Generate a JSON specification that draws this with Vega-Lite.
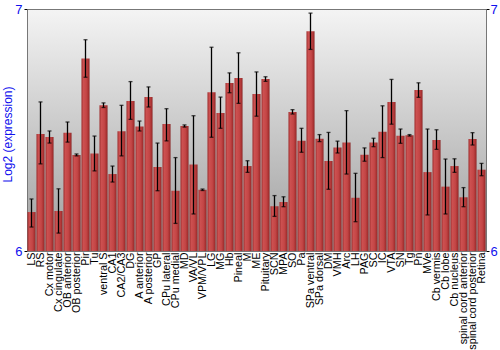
{
  "$schema": "https://vega.github.io/schema/vega-lite/v6.json",
  "width": 459,
  "height": 242,
  "autosize": {"type": "none"},
  "padding": {"left": 27, "top": 9, "right": 14, "bottom": 99},
  "background": "white",
  "config": {
    "font": "Liberation Sans",
    "view": {
      "stroke": "#777777",
      "strokeWidth": 1,
      "fill": {"gradient": "linear", "x1": 0, "y1": 0, "x2": 0, "y2": 1, "stops": [{"offset": 0, "color": "#f4f4f4"}, {"offset": 1, "color": "#9e9e9e"}]}
    }
  },
  "data": {
    "values": [
      {"region": "LS", "value": 6.161, "lo": 6.099, "hi": 6.215},
      {"region": "RS", "value": 6.483, "lo": 6.360, "hi": 6.616},
      {"region": "Cx motor", "value": 6.471, "lo": 6.446, "hi": 6.496},
      {"region": "Cx cingulate", "value": 6.165, "lo": 6.074, "hi": 6.257},
      {"region": "OB anterior", "value": 6.489, "lo": 6.450, "hi": 6.533},
      {"region": "OB posterior", "value": 6.397, "lo": 6.393, "hi": 6.401},
      {"region": "Pir", "value": 6.795, "lo": 6.718, "hi": 6.873},
      {"region": "Tu", "value": 6.403, "lo": 6.331, "hi": 6.475},
      {"region": "ventral S", "value": 6.602, "lo": 6.593, "hi": 6.612},
      {"region": "CA1", "value": 6.318, "lo": 6.285, "hi": 6.351},
      {"region": "CA2/CA3", "value": 6.495, "lo": 6.393, "hi": 6.602},
      {"region": "DG", "value": 6.620, "lo": 6.544, "hi": 6.700},
      {"region": "A anterior", "value": 6.514, "lo": 6.496, "hi": 6.537},
      {"region": "A posterior", "value": 6.636, "lo": 6.595, "hi": 6.678},
      {"region": "GP", "value": 6.347, "lo": 6.249, "hi": 6.446},
      {"region": "CPu lateral", "value": 6.525, "lo": 6.455, "hi": 6.588},
      {"region": "CPu medial", "value": 6.249, "lo": 6.114, "hi": 6.386},
      {"region": "MD", "value": 6.517, "lo": 6.512, "hi": 6.521},
      {"region": "VA/VL", "value": 6.357, "lo": 6.153, "hi": 6.559},
      {"region": "VPM/VPL", "value": 6.253, "lo": 6.250, "hi": 6.256},
      {"region": "LG", "value": 6.656, "lo": 6.470, "hi": 6.842},
      {"region": "MG", "value": 6.570, "lo": 6.507, "hi": 6.636},
      {"region": "Hb", "value": 6.694, "lo": 6.654, "hi": 6.736},
      {"region": "Pineal", "value": 6.715, "lo": 6.610, "hi": 6.819},
      {"region": "M", "value": 6.351, "lo": 6.325, "hi": 6.373},
      {"region": "ME", "value": 6.649, "lo": 6.557, "hi": 6.740},
      {"region": "Pituitary", "value": 6.711, "lo": 6.701, "hi": 6.720},
      {"region": "SCN", "value": 6.185, "lo": 6.143, "hi": 6.229},
      {"region": "MPA", "value": 6.202, "lo": 6.183, "hi": 6.224},
      {"region": "SO", "value": 6.574, "lo": 6.566, "hi": 6.584},
      {"region": "Pa", "value": 6.456, "lo": 6.408, "hi": 6.507},
      {"region": "SPa ventral", "value": 6.908, "lo": 6.833, "hi": 6.983},
      {"region": "SPa dorsal", "value": 6.464, "lo": 6.452, "hi": 6.481},
      {"region": "DM", "value": 6.372, "lo": 6.255, "hi": 6.490},
      {"region": "VMH", "value": 6.428, "lo": 6.405, "hi": 6.454},
      {"region": "Arc", "value": 6.448, "lo": 6.318, "hi": 6.580},
      {"region": "LH", "value": 6.220, "lo": 6.121, "hi": 6.321},
      {"region": "PAG", "value": 6.398, "lo": 6.371, "hi": 6.426},
      {"region": "SC", "value": 6.448, "lo": 6.431, "hi": 6.466},
      {"region": "IC", "value": 6.493, "lo": 6.386, "hi": 6.600},
      {"region": "VTA", "value": 6.616, "lo": 6.524, "hi": 6.709},
      {"region": "SN", "value": 6.476, "lo": 6.445, "hi": 6.504},
      {"region": "Tg", "value": 6.478, "lo": 6.475, "hi": 6.481},
      {"region": "Pn", "value": 6.665, "lo": 6.635, "hi": 6.695},
      {"region": "MVe", "value": 6.326, "lo": 6.149, "hi": 6.504},
      {"region": "Cb vermis", "value": 6.459, "lo": 6.420, "hi": 6.501},
      {"region": "Cb lobe", "value": 6.266, "lo": 6.153, "hi": 6.380},
      {"region": "Cb nucleus", "value": 6.351, "lo": 6.325, "hi": 6.381},
      {"region": "spinal cord anterior", "value": 6.222, "lo": 6.183, "hi": 6.262},
      {"region": "spinal cord posterior", "value": 6.463, "lo": 6.438, "hi": 6.489},
      {"region": "Retina", "value": 6.336, "lo": 6.311, "hi": 6.362}
    ]
  },
  "encoding": {
    "x": {
      "field": "region",
      "type": "nominal",
      "sort": null,
      "scale": {"paddingInner": 0.1, "paddingOuter": 0.05},
      "axis": {
        "title": null,
        "labelAngle": -90,
        "labelAlign": "right",
        "labelBaseline": "middle",
        "labelFontSize": 10.8,
        "labelColor": "black",
        "labelOverlap": false,
        "labelBound": false,
        "labelPadding": 1,
        "ticks": false,
        "domain": false
      }
    }
  },
  "layer": [
    {
      "mark": {
        "type": "bar",
        "color": {"gradient": "linear", "x1": 0, "y1": 0, "x2": 1, "y2": 0, "stops": [
          {"offset": 0, "color": "#a03030"},
          {"offset": 0.25, "color": "#cc5050"},
          {"offset": 0.6, "color": "#c44646"},
          {"offset": 0.85, "color": "#aa3333"},
          {"offset": 1, "color": "#882222"}
        ]}
      },
      "encoding": {
        "y": {
          "field": "value",
          "type": "quantitative",
          "scale": {"domain": [6, 7], "zero": false, "nice": false},
          "axis": {
            "title": "Log2 (expression)",
            "titleColor": "#1010ee",
            "titleFontSize": 12,
            "titleFontWeight": "normal",
            "titlePadding": 0,
            "titleY": 125,
            "values": [6, 7],
            "format": "d",
            "labelColor": "#1010ee",
            "labelFontSize": 13,
            "labelPadding": 2,
            "tickColor": "black",
            "tickSize": 3,
            "domainColor": "#777777",
            "grid": false
          }
        },
        "y2": {"datum": 6}
      }
    },
    {
      "mark": {"type": "rule", "color": "black", "strokeWidth": 1.3},
      "encoding": {
        "y": {
          "field": "lo",
          "type": "quantitative",
          "scale": {"domain": [6, 7], "zero": false, "nice": false},
          "axis": {
            "title": null,
            "orient": "right",
            "values": [6, 7],
            "format": "d",
            "labelColor": "#1010ee",
            "labelFontSize": 13,
            "labelPadding": 1,
            "tickColor": "black",
            "tickSize": 3,
            "domainColor": "#777777",
            "grid": false
          }
        },
        "y2": {"field": "hi"}
      }
    },
    {
      "mark": {"type": "tick", "color": "black", "size": 4, "thickness": 1.3, "orient": "horizontal"},
      "encoding": {
        "y": {"field": "lo", "type": "quantitative", "scale": {"domain": [6, 7], "zero": false, "nice": false}, "axis": null}
      }
    },
    {
      "mark": {"type": "tick", "color": "black", "size": 4, "thickness": 1.3, "orient": "horizontal"},
      "encoding": {
        "y": {"field": "hi", "type": "quantitative", "scale": {"domain": [6, 7], "zero": false, "nice": false}, "axis": null}
      }
    }
  ],
  "resolve": {"scale": {"y": "independent"}}
}
